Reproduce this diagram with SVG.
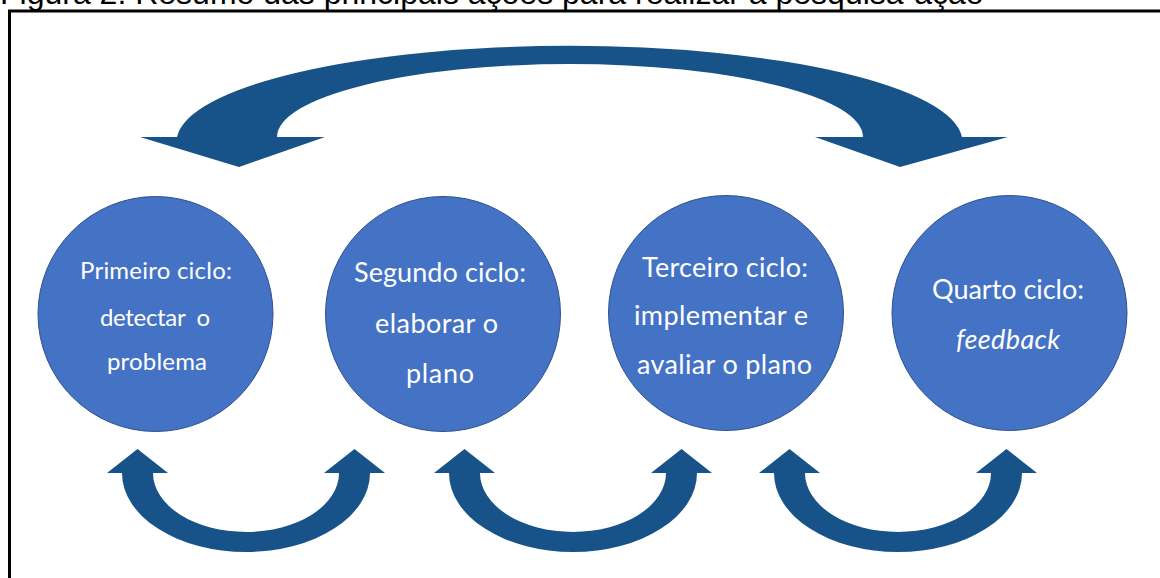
<svg xmlns="http://www.w3.org/2000/svg" width="1160" height="578" viewBox="0 0 1160 578">
  <style>
    .node circle { fill: #4472C4; stroke: #2F528F; stroke-width: 1; }
    .node text { font-family: Lato, "Open Sans", sans-serif; fill: #FFFFFF; text-anchor: middle; }
    .n1 text { font-size: 24px; }
    .n2 text { font-size: 27px; }
    .arrow { fill: #175389; }
    .caption { font-family: "Liberation Sans", Arial, sans-serif; font-size: 32px; fill: #000000; }
  </style>
  <defs>
    <path id="uArrow" d="M -124,473 A 124 79 0 0 0 124,473 L 139,473 L 108.5,449 L 78,473 L 93,473 A 93 59 0 0 1 -93,473 L -78,473 L -108.5,449 L -139,473 Z"/>
  </defs>
  <rect x="0" y="0" width="1160" height="578" fill="#FFFFFF"/>
  <text class="caption" x="0" y="3.5">Figura 2: Resumo das principais ações para realizar a pesquisa-ação</text>
  <rect x="9.5" y="11" width="1200" height="620" fill="none" stroke="#000000" stroke-width="3"/>

  <g id="connectors">
    <path class="arrow" d="M 177,137 A 393 96 0 0 1 962,137 L 1008,137 L 900,167 L 815,137 L 863,137 A 293 73 0 0 0 277,137 L 325,137 L 239,167 L 140,137 Z"/>
    <use class="arrow" href="#uArrow" transform="translate(246,0)"/>
    <use class="arrow" href="#uArrow" transform="translate(573,0)"/>
    <use class="arrow" href="#uArrow" transform="translate(898,0)"/>
  </g>

  <g id="node1" class="node n1">
    <circle cx="155.5" cy="314" r="117.5"/>
    <text x="156" y="279" textLength="152">Primeiro ciclo:</text>
    <text x="155" y="326" style="white-space:pre" textLength="110">detectar  o</text>
    <text x="157" y="370" textLength="100">problema</text>
  </g>
  <g id="node2" class="node n2">
    <circle cx="443" cy="314" r="117.5"/>
    <text x="440" y="282" textLength="172">Segundo ciclo:</text>
    <text x="436.5" y="333" textLength="123">elaborar o</text>
    <text x="440" y="383" textLength="68">plano</text>
  </g>
  <g id="node3" class="node n2">
    <circle cx="726" cy="313" r="117.5"/>
    <text x="725" y="277" textLength="166">Terceiro ciclo:</text>
    <text x="721" y="325" textLength="174">implementar e</text>
    <text x="724.5" y="374" textLength="175">avaliar o plano</text>
  </g>
  <g id="node4" class="node n2">
    <circle cx="1009.5" cy="313" r="117.5"/>
    <text x="1008" y="299" textLength="152">Quarto ciclo:</text>
    <text x="1008" y="349" font-style="italic" textLength="104">feedback</text>
  </g>
</svg>
